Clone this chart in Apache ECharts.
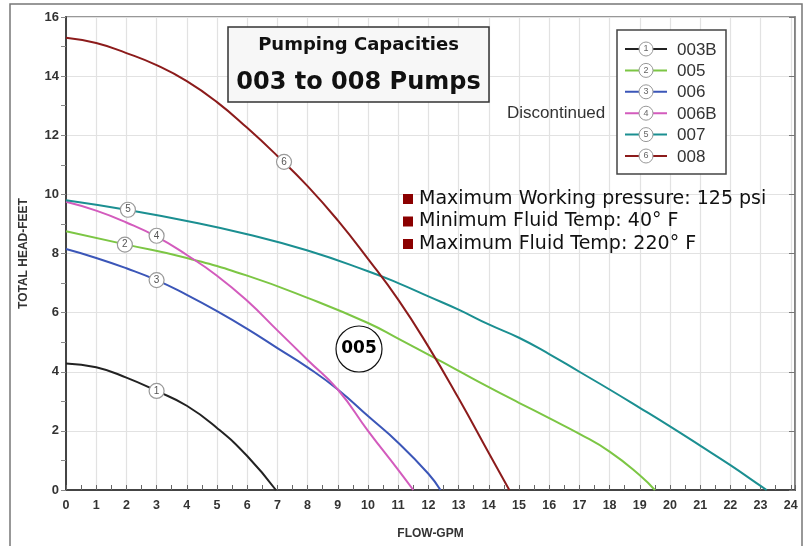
<!DOCTYPE html>
<html lang="en">
<head>
<meta charset="UTF-8">
<title>Pumping Capacities</title>
<script src="https://cdn.jsdelivr.net/npm/echarts@6/dist/echarts.min.js"></script>
<style>
  html, body { margin: 0; padding: 0; background: #fff; }
  #chart { width: 804px; height: 546px; }
</style>
</head>
<body>
<div id="chart"></div>
<script>
// pump curves: [flow gpm, head feet]
var pump003B = [[0,4.28],[1,4.15],[2,3.8],[3,3.35],[4,2.85],[5,2.1],[6,1.15],[6.95,0]];
var pump005  = [[0,8.75],[2,8.3],[4,7.85],[6,7.25],[8,6.5],[10,5.65],[11,5.12],[12,4.58],[13,4.03],[14,3.48],[15,2.95],[16,2.43],[17,1.9],[18,1.3],[19,0.5],[19.5,0]];
var pump006  = [[0,8.15],[1,7.85],[2,7.5],[3,7.1],[4,6.6],[5,6.05],[6,5.45],[7,4.8],[8,4.15],[9,3.4],[10,2.5],[11,1.6],[12,0.55],[12.4,0]];
var pump006B = [[0,9.75],[1,9.45],[2,9.05],[3,8.57],[4,7.95],[5,7.25],[6,6.4],[7,5.4],[8,4.4],[9,3.4],[10,2.0],[11,0.68],[11.5,0]];
var pump007  = [[0,9.8],[2,9.48],[4,9.1],[6,8.65],[8,8.1],[10,7.4],[11,7.0],[12,6.55],[13,6.1],[14,5.6],[15,5.15],[16,4.6],[17,4.0],[18,3.4],[19,2.78],[20,2.15],[21,1.5],[22,0.84],[23,0.14],[23.2,0]];
var pump008  = [[0,15.3],[1,15.12],[2,14.78],[3,14.37],[4,13.83],[5,13.12],[6,12.25],[7,11.3],[8,10.28],[9,9.12],[10,7.82],[11,6.44],[12,4.85],[13,3.1],[14,1.25],[14.68,0]];

var names   = ['003B', '005', '006', '006B', '007', '008'];
var curves  = [pump003B, pump005, pump006, pump006B, pump007, pump008];
var colors  = ['#222222', '#7cc644', '#3b56b8', '#d35bbd', '#1b8f91', '#8c1b1b'];
// where the numbered circle sits on each curve
var markerAt = [[3.0,3.35],[1.95,8.3],[3.0,7.1],[3.0,8.6],[2.05,9.48],[7.22,11.1]];

var notes = ['Maximum Working pressure: 125 psi', 'Minimum Fluid Temp: 40\u00B0 F', 'Maximum Fluid Temp: 220\u00B0 F'];

var tickFont = "'Liberation Sans', Arial, sans-serif";

var chart = echarts.init(document.getElementById('chart'));

var series = names.map(function (n, i) {
  return {
    type: 'line',
    name: n,
    data: curves[i],
    smooth: 0.5,
    symbol: 'none',
    lineStyle: { color: colors[i], width: 2 },
    z: 3,
    markPoint: {
      symbol: 'circle',
      symbolSize: 15,
      data: [{ coord: markerAt[i] }],
      itemStyle: { color: '#fff', borderColor: '#999', borderWidth: 1.2 },
      label: { show: true, formatter: String(i + 1), color: '#555', fontSize: 10, fontFamily: tickFont }
    }
  };
});

var Z = 20;
var overlay = [];
// title box
overlay.push({ type: 'rect', z: Z, shape: { x: 228, y: 27, width: 261, height: 75 }, style: { fill: '#f7f7f7', stroke: '#333', lineWidth: 1.5 } });
overlay.push({ type: 'text', z: Z + 1, x: 358.5, y: 45, style: { text: 'Pumping Capacities', fill: '#111', fontSize: 18, fontWeight: 'bold', fontFamily: 'DejaVu Sans', align: 'center', verticalAlign: 'middle' } });
overlay.push({ type: 'text', z: Z + 1, x: 358.5, y: 83, style: { text: '003 to 008 Pumps', fill: '#111', fontSize: 24, fontWeight: 'bold', fontFamily: 'DejaVu Sans', align: 'center', verticalAlign: 'middle' } });

// legend box with line + numbered circle
overlay.push({ type: 'rect', z: Z, shape: { x: 617, y: 30, width: 109, height: 144 }, style: { fill: '#fff', stroke: '#444', lineWidth: 1.5 } });
names.forEach(function (n, i) {
  var y = 49 + i * 21.4;
  overlay.push({ type: 'line', z: Z + 1, shape: { x1: 625, y1: y, x2: 667, y2: y }, style: { stroke: colors[i], lineWidth: 2 } });
  overlay.push({ type: 'circle', z: Z + 2, shape: { cx: 646, cy: y, r: 7 }, style: { fill: '#fff', stroke: '#999', lineWidth: 1 } });
  overlay.push({ type: 'text', z: Z + 3, x: 646, y: y, style: { text: String(i + 1), fill: '#666', fontSize: 9, fontFamily: tickFont, align: 'center', verticalAlign: 'middle' } });
  overlay.push({ type: 'text', z: Z + 1, x: 677, y: y + 1, style: { text: n, fill: '#333', fontSize: 17, fontFamily: tickFont, verticalAlign: 'middle' } });
});
overlay.push({ type: 'text', z: Z, x: 507, y: 113, style: { text: 'Discontinued', fill: '#333', fontSize: 17, fontFamily: tickFont, verticalAlign: 'middle' } });

// spec notes
notes.forEach(function (t, i) {
  var y = 199 + i * 22.5;
  overlay.push({ type: 'rect', z: Z, shape: { x: 403, y: y - 5, width: 10, height: 10 }, style: { fill: '#8b0000' } });
  overlay.push({ type: 'text', z: Z, x: 419, y: y, style: { text: t, fill: '#111', fontSize: 19, fontFamily: 'DejaVu Sans', verticalAlign: 'middle' } });
});

// "005" badge
overlay.push({ type: 'circle', z: Z, shape: { cx: 359, cy: 349, r: 23 }, style: { fill: '#fff', stroke: '#111', lineWidth: 1.2 } });
overlay.push({ type: 'text', z: Z + 1, x: 359, y: 349, style: { text: '005', fill: '#000', fontSize: 17, fontWeight: 'bold', fontFamily: 'DejaVu Sans', align: 'center', verticalAlign: 'middle' } });

// outer frame
overlay.push({ type: 'rect', z: 1, silent: true, shape: { x: 10, y: 4, width: 792, height: 560 }, style: { fill: 'none', stroke: '#777', lineWidth: 1.5 } });

chart.setOption({
  animation: false,
  backgroundColor: '#fff',
  grid: { left: 66, right: 9, top: 17, bottom: 56, show: true, borderColor: '#777', borderWidth: 1.5 },
  xAxis: {
    type: 'value', min: 0, max: 24.14, interval: 1,
    name: 'FLOW-GPM', nameLocation: 'middle', nameGap: 38,
    nameTextStyle: { color: '#333', fontWeight: 'bold', fontSize: 12, fontFamily: tickFont },
    axisLine: { lineStyle: { color: '#444', width: 2 } },
    axisTick: { inside: true, length: 5, lineStyle: { color: '#666' } },
    minorTick: { show: true, splitNumber: 2, length: 5, lineStyle: { color: '#666' } },
    axisLabel: {
      formatter: function (v) { return Number.isInteger(v) ? v : ''; },
      color: '#333', fontWeight: 'bold', fontSize: 12.5, fontFamily: tickFont, margin: 9
    },
    splitLine: { show: true, lineStyle: { color: '#e2e2e2', width: 1.2 } }
  },
  yAxis: [{
    type: 'value', min: 0, max: 16, interval: 2,
    name: 'TOTAL HEAD-FEET', nameLocation: 'middle', nameGap: 36,
    nameTextStyle: { color: '#333', fontWeight: 'bold', fontSize: 12, fontFamily: tickFont },
    axisLine: { show: true, lineStyle: { color: '#444', width: 2 } },
    axisTick: { show: true, length: 5, lineStyle: { color: '#888' } },
    minorTick: { show: true, splitNumber: 2, length: 5, lineStyle: { color: '#888' } },
    axisLabel: { color: '#333', fontWeight: 'bold', fontSize: 13, fontFamily: tickFont, margin: 7 },
    splitLine: { show: true, lineStyle: { color: '#e2e2e2', width: 1.2 } }
  }, {
    type: 'value', min: 0, max: 16, interval: 2, position: 'right',
    axisLine: { show: true, lineStyle: { color: '#777', width: 1.5 } },
    axisTick: { show: true, inside: true, length: 6, lineStyle: { color: '#777' } },
    axisLabel: { show: false },
    splitLine: { show: false }
  }],
  series: series,
  graphic: overlay
});
</script>
</body>
</html>
